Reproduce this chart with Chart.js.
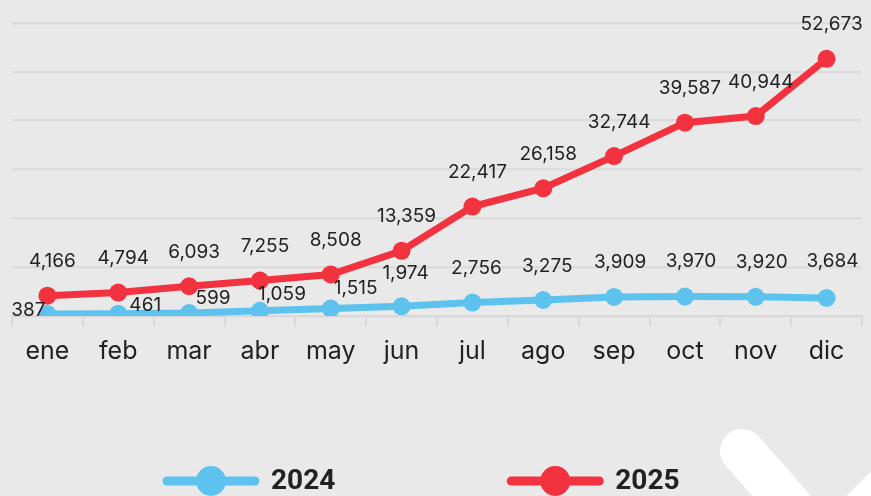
<!DOCTYPE html>
<html>
<head>
<meta charset="utf-8">
<script src="https://cdn.jsdelivr.net/npm/chart.js@4.4.1/dist/chart.umd.min.js"></script>
<style>
    html, body { margin: 0; padding: 0; background: #e9e9e9; }
    #wrap { width: 871px; height: 496px; position: relative; }
</style>
</head>
<body>
<div id="wrap"><canvas id="chartContainer"></canvas></div>
<script>
// Data
const months = ['ene', 'feb', 'mar', 'abr', 'may', 'jun', 'jul', 'ago', 'sep', 'oct', 'nov', 'dic'];
const values2024 = [387, 461, 599, 1059, 1515, 1974, 2756, 3275, 3909, 3970, 3920, 3684];
const values2025 = [4166, 4794, 6093, 7255, 8508, 13359, 22417, 26158, 32744, 39587, 40944, 52673];
const yTicks = [0, 10000, 20000, 30000, 40000, 50000, 60000];

const BLUE = '#5dc2ee';
const RED = '#f2333f';
const TEXT = '#222222';

// background + the white stroke in the lower right corner
const backdrop = {
    id: 'backdrop',
    beforeDraw(chart) {
        const ctx = chart.ctx;
        const w = chart.width, h = chart.height;
        ctx.save();
        ctx.fillStyle = '#e9e9e9';
        ctx.fillRect(0, 0, w, h);
        ctx.strokeStyle = '#ffffff';
        ctx.lineWidth = 44;
        ctx.lineCap = 'round';
        ctx.lineJoin = 'round';
        ctx.beginPath();
        ctx.moveTo(w * 0.852, h * 0.909);
        ctx.lineTo(w * 0.949, h * 1.103);
        ctx.lineTo(w * 1.064, h * 0.901);
        ctx.stroke();
        ctx.restore();
    }
};

// number labels over every point
const valueLabels = {
    id: 'valueLabels',
    afterDatasetsDraw(chart, args, opts) {
        const ctx = chart.ctx;
        ctx.save();
        ctx.font = opts.font;
        ctx.fillStyle = TEXT;
        ctx.textAlign = 'center';
        ctx.textBaseline = 'middle';
        chart.data.datasets.forEach((ds, i) => {
            const meta = chart.getDatasetMeta(i);
            const shifts = opts.shifts[i] || [];
            meta.data.forEach((pt, j) => {
                const s = shifts[j] || opts.offset;
                ctx.fillText(ds.data[j].toLocaleString('en-US'), pt.x + s[0], pt.y + s[1]);
            });
        });
        ctx.restore();
    }
};

// legend at the bottom: line + dot, bold year
const bottomLegend = {
    id: 'bottomLegend',
    afterDraw(chart, args, opts) {
        const ctx = chart.ctx;
        ctx.save();
        ctx.font = opts.font;
        ctx.textBaseline = 'middle';
        let x = opts.left;
        const y = opts.y;
        chart.data.datasets.forEach(ds => {
            ctx.strokeStyle = ds.borderColor;
            ctx.fillStyle = ds.borderColor;
            ctx.lineWidth = 9;
            ctx.lineCap = 'round';
            ctx.beginPath();
            ctx.moveTo(x + 4, y);
            ctx.lineTo(x + opts.symbolWidth - 4, y);
            ctx.stroke();
            ctx.beginPath();
            ctx.arc(x + opts.symbolWidth / 2, y, 15, 0, Math.PI * 2);
            ctx.fill();
            ctx.fillStyle = TEXT;
            ctx.textAlign = 'left';
            const tx = x + opts.symbolWidth + 12;
            ctx.fillText(ds.label, tx, y + 1);
            x = tx + ctx.measureText(ds.label).width + opts.gap;
        });
        ctx.restore();
    }
};

document.addEventListener('DOMContentLoaded', function () {
    const ctx = document.getElementById('chartContainer').getContext('2d');
    new Chart(ctx, {
        type: 'line',
        data: {
            labels: months,
            datasets: [{
                label: '2024',
                data: values2024,
                borderColor: BLUE,
                backgroundColor: BLUE,
                borderWidth: 7,
                pointRadius: 9,
                pointBorderWidth: 0,
                pointBackgroundColor: BLUE,
                tension: 0
            }, {
                label: '2025',
                data: values2025,
                borderColor: RED,
                backgroundColor: RED,
                borderWidth: 7,
                pointRadius: 9,
                pointBorderWidth: 0,
                pointBackgroundColor: RED,
                tension: 0
            }]
        },
        options: {
            responsive: true,
            maintainAspectRatio: false,
            animation: false,
            layout: {
                padding: { left: 12, right: 4, top: 23, bottom: 120 }
            },
            scales: {
                x: {
                    offset: true,
                    grid: {
                        offset: true,
                        drawOnChartArea: false,
                        drawTicks: true,
                        tickLength: 10,
                        color: '#d8d8d8',
                        lineWidth: 2
                    },
                    border: { display: true, color: '#d8d8d8', width: 2 },
                    ticks: {
                        color: TEXT,
                        padding: 10,
                        font: { family: 'Inter, Roboto, sans-serif', size: 25 }
                    }
                },
                y: {
                    min: 0,
                    max: 60000,
                    afterBuildTicks: axis => { axis.ticks = yTicks.map(v => ({ value: v })); },
                    grid: { color: '#dcdcdc', lineWidth: 2.5, drawTicks: false },
                    border: { display: false },
                    ticks: { display: false }
                }
            },
            plugins: {
                legend: { display: false },
                tooltip: { enabled: false },
                valueLabels: {
                    font: '19px Inter, Roboto, sans-serif',
                    offset: [5, -34],
                    shifts: {
                        0: [[-19, -4], [27, -8], [24, -15], [22, -17], [25, -20], [4, -33], [4, -34], [4, -34], [6, -35], [6, -35], [6, -35], [6, -37]]
                    }
                },
                bottomLegend: {
                    font: 'bold 28px Roboto, sans-serif',
                    left: 163,
                    y: 481,
                    symbolWidth: 96,
                    gap: 172
                }
            }
        },
        plugins: [backdrop, valueLabels, bottomLegend]
    });
});
</script>
</body>
</html>
